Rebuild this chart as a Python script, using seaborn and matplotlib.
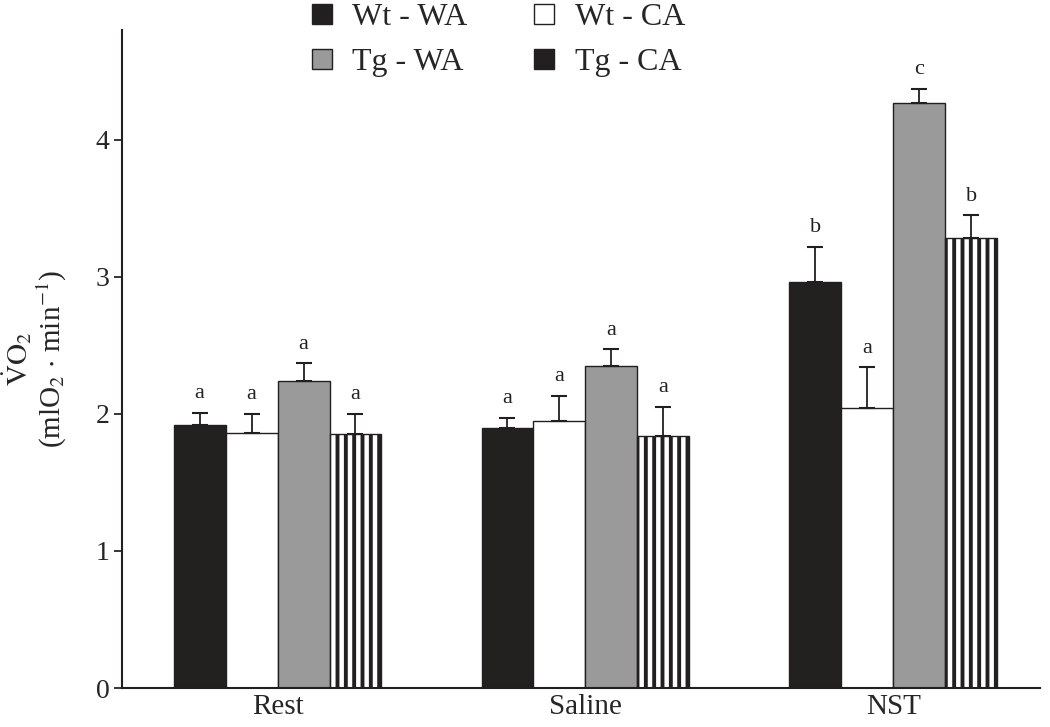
import numpy as np
import pandas as pd
import matplotlib
matplotlib.use("Agg")
import matplotlib.pyplot as plt
import seaborn as sns
from matplotlib.lines import Line2D

sns.set_style("ticks")
plt.rcParams['font.family'] = ['Liberation Serif', 'DejaVu Serif']
plt.rcParams['mathtext.fontset'] = 'stix'
plt.rcParams['hatch.linewidth'] = 2.8

# data
conditions = ['Rest', 'Saline', 'NST']
groups = ['Wt - WA', 'Wt - CA', 'Tg - WA', 'Tg - CA']
wt_wa = [1.92, 1.90, 2.96]
wt_ca = [1.86, 1.95, 2.04]
tg_wa = [2.24, 2.35, 4.27]
tg_ca = [1.85, 1.84, 3.28]
wt_wa_err = [0.09, 0.07, 0.26]
wt_ca_err = [0.14, 0.18, 0.30]
tg_wa_err = [0.13, 0.12, 0.10]
tg_ca_err = [0.15, 0.21, 0.17]
letters = [['a', 'a', 'b'], ['a', 'a', 'a'], ['a', 'a', 'c'], ['a', 'a', 'b']]

means = [wt_wa, wt_ca, tg_wa, tg_ca]
errs = [wt_wa_err, wt_ca_err, tg_wa_err, tg_ca_err]

df = pd.DataFrame({
    'condition': np.tile(conditions, len(groups)),
    'group': np.repeat(groups, len(conditions)),
    'vo2': np.concatenate(means),
})

colors = ['#231f20', '#ffffff', '#9a9a9a', '#ffffff']

fig = plt.figure(figsize=(10.5, 7.27), dpi=100)
ax = fig.add_axes([0.116, 0.0536, 0.874, 0.905])

sns.barplot(data=df, x='condition', y='vo2', hue='group', order=conditions,
            hue_order=groups, palette=colors, width=0.675, errorbar=None,
            edgecolor='#231f20', linewidth=1.0, legend=False, ax=ax)

# hatch the Tg - CA bars, add upper error bars and letters
bar_containers = list(ax.containers)
for i, cont in enumerate(bar_containers):
    for j, bar in enumerate(cont.patches):
        if i == 3:
            bar.set_hatch('||')
        x = bar.get_x() + bar.get_width() / 2
        top = bar.get_height()
        ax.errorbar(x, top, yerr=[[0], [errs[i][j]]], fmt='none',
                    ecolor='#231f20', elinewidth=1.3, capsize=6, capthick=1.5)
        ax.text(x, top + errs[i][j] + 0.07, letters[i][j], ha='center',
                va='bottom', fontsize=16, color='#231f20')

ax.set_ylim(0, 4.8)
ax.set_xlim(-0.506, 2.475)
ax.set_yticks([0, 1, 2, 3, 4])
ax.tick_params(axis='y', labelsize=20, length=6, width=1.3, direction='out', pad=3)
ax.tick_params(axis='x', labelsize=21, length=0, pad=4)
ax.set_xlabel('')
ax.set_ylabel(r'$\dot{\mathrm{V}}\mathrm{O}_2$' + '\n' +
              r'(mlO$_2$ $\cdot$ min$^{-1}$)', fontsize=21, linespacing=1.0)
ax.yaxis.set_label_coords(-0.058, 0.5)
sns.despine(ax=ax)
for s in ['left', 'bottom']:
    ax.spines[s].set_linewidth(1.5)
    ax.spines[s].set_color('#231f20')

handles = [Line2D([0], [0], marker='s', linestyle='none', markersize=15,
                  markerfacecolor=c, markeredgecolor='#231f20', markeredgewidth=1.0)
           for c in ['#231f20', '#9a9a9a', '#ffffff', '#231f20']]
labels = ['Wt - WA', 'Tg - WA', 'Wt - CA', 'Tg - CA']
fig.legend(handles, labels, loc='upper left', bbox_to_anchor=(0.261, 1.036),
           ncol=2, frameon=False, fontsize=23, columnspacing=1.8,
           handlelength=1.2, handletextpad=0.35, labelspacing=0.5)

fig.savefig('out.png', dpi=100)
